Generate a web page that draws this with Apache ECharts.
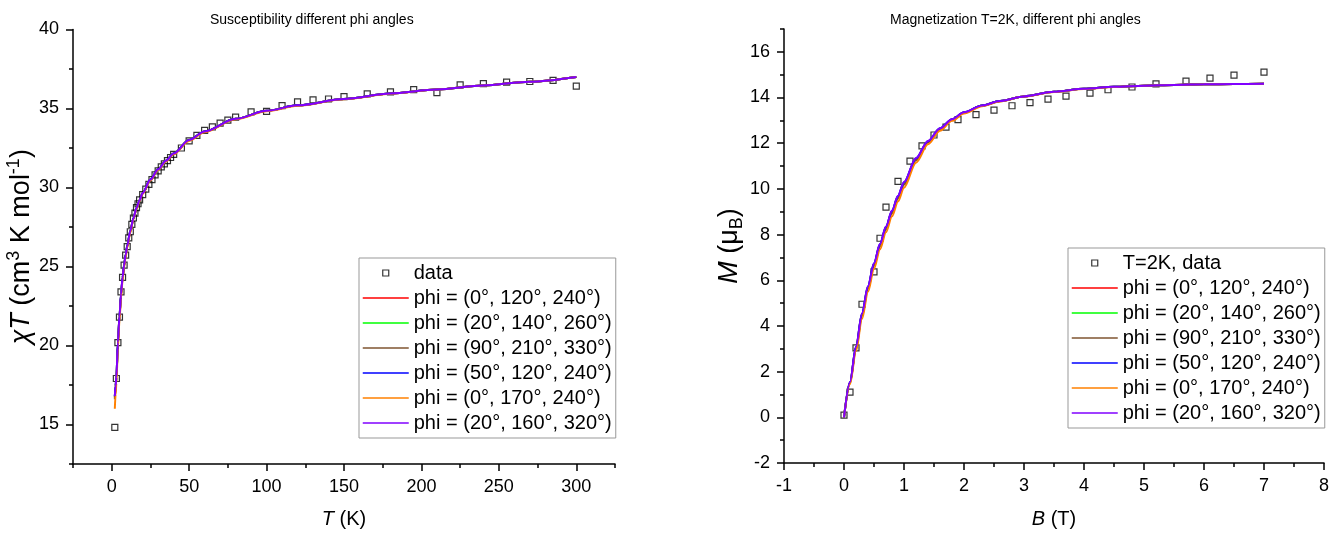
<!DOCTYPE html>
<html>
<head>
<meta charset="utf-8">
<script src="https://cdn.jsdelivr.net/npm/echarts@6/dist/echarts.min.js"></script>
<style>html,body{margin:0;padding:0;background:#fff}#c{width:1341px;height:534px}</style>
</head>
<body>
<div id="c"></div>
<script>
const FONT = '"Liberation Sans", Arial, sans-serif';

// ---------- Left panel: susceptibility ----------
const suscT = [2,3,4,5,6,7,8,9,10,11,12,13,14,15,16,17,18,20,22,24,26,28,30,32,34,36,38,40,45,50,55,60,65,70,75,80,90,100,110,120,130,140,150,165,180,195,210,225,240,255,270,285,300];
const suscChiT = [14.82,17.91,20.18,21.79,23.39,24.31,25.09,25.72,26.26,26.81,27.20,27.67,28.07,28.38,28.72,28.97,29.22,29.55,29.9,30.2,30.5,30.8,31.05,31.3,31.5,31.7,31.9,32.1,32.5,32.95,33.3,33.61,33.84,34.07,34.26,34.45,34.79,34.82,35.18,35.42,35.54,35.60,35.75,35.92,36.05,36.19,36.00,36.49,36.57,36.67,36.71,36.78,36.42];

const fitT = [2,2.5,3,4,5,6,7,8,9,10,12,14,16,18,20,25,30,35,40,50,60,80,100,120,150,180,210,240,270,300];
const fitChiT_a = [16.7,17.4,17.95,20.15,21.8,23.2,24.27,25.08,25.73,26.28,27.24,28.04,28.69,29.2,29.65,30.5,31.15,31.7,32.15,33.0,33.55,34.35,34.85,35.2,35.6,35.95,36.2,36.45,36.7,37.0];
const fitChiT_b = [16.75,17.42,17.97,20.17,21.82,23.22,24.28,25.09,25.74,26.29,27.24,28.04,28.69,29.2,29.65,30.5,31.15,31.7,32.15,33.0,33.55,34.35,34.85,35.2,35.6,35.95,36.2,36.45,36.7,37.0];
const fitChiT_c = [16.6,17.3,17.88,20.1,21.75,23.15,24.22,25.04,25.7,26.25,27.22,28.02,28.68,29.19,29.64,30.49,31.14,31.7,32.15,33.0,33.55,34.35,34.85,35.2,35.6,35.95,36.2,36.45,36.7,37.0];
const fitChiT_d = [16.78,17.44,17.99,20.19,21.84,23.24,24.29,25.1,25.75,26.3,27.25,28.05,28.7,29.2,29.65,30.5,31.15,31.7,32.15,33.0,33.55,34.35,34.85,35.2,35.6,35.95,36.2,36.45,36.7,37.0];
const fitChiT_e = [16.0,16.9,17.6,19.85,21.55,23.0,24.1,24.95,25.6,26.2,27.15,27.98,28.65,29.15,29.6,30.45,31.1,31.65,32.1,32.95,33.5,34.32,34.83,35.18,35.59,35.94,36.2,36.45,36.7,37.0];
const fitChiT_f = [16.8,17.45,18.0,20.2,21.85,23.25,24.3,25.1,25.75,26.3,27.25,28.05,28.7,29.2,29.65,30.5,31.15,31.7,32.15,33.0,33.55,34.35,34.85,35.2,35.6,35.95,36.2,36.45,36.7,37.0];

// ---------- Right panel: magnetization ----------
const fieldB = [0,0.1,0.2,0.3,0.5,0.6,0.7,0.9,1.1,1.3,1.5,1.7,1.9,2.2,2.5,2.8,3.1,3.4,3.7,4.1,4.4,4.8,5.2,5.7,6.1,6.5,7.0];
const magM = [0.10,1.10,3.04,4.95,6.37,7.84,9.20,10.33,11.22,11.88,12.36,12.70,13.03,13.25,13.45,13.64,13.78,13.93,14.06,14.19,14.34,14.46,14.60,14.72,14.85,14.98,15.11];

const fitB = [0,0.1,0.2,0.3,0.4,0.5,0.6,0.7,0.8,0.9,1.0,1.2,1.4,1.6,1.8,2.0,2.3,2.6,3.0,3.5,4.0,4.5,5.0,5.5,6.0,6.5,7.0];
const fitM_a = [0,1.53,3.06,4.5,5.7,6.7,7.55,8.3,9.0,9.65,10.25,11.3,12.07,12.63,13.04,13.34,13.65,13.85,14.05,14.25,14.38,14.47,14.52,14.55,14.58,14.59,14.6];
const fitM_b = [0,1.54,3.08,4.52,5.72,6.72,7.57,8.32,9.02,9.67,10.27,11.32,12.08,12.64,13.04,13.34,13.65,13.85,14.05,14.25,14.38,14.47,14.52,14.55,14.58,14.59,14.6];
const fitM_c = [0,1.5,3.0,4.42,5.62,6.62,7.47,8.22,8.93,9.58,10.18,11.25,12.03,12.6,13.02,13.33,13.64,13.84,14.05,14.25,14.38,14.47,14.52,14.55,14.58,14.59,14.6];
const fitM_d = [0,1.55,3.09,4.54,5.74,6.74,7.59,8.34,9.04,9.69,10.29,11.34,12.09,12.65,13.05,13.35,13.65,13.85,14.05,14.25,14.38,14.47,14.52,14.55,14.58,14.59,14.6];
const fitM_e = [0,1.45,2.9,4.3,5.5,6.5,7.35,8.1,8.8,9.45,10.05,11.15,11.95,12.55,12.98,13.3,13.62,13.83,14.04,14.24,14.37,14.46,14.52,14.55,14.58,14.59,14.6];
const fitM_f = [0,1.55,3.1,4.55,5.75,6.75,7.6,8.35,9.05,9.7,10.3,11.35,12.1,12.65,13.05,13.35,13.65,13.85,14.05,14.25,14.38,14.47,14.52,14.55,14.58,14.59,14.6];

const phiNames = ['phi = (0°, 120°, 240°)','phi = (20°, 140°, 260°)','phi = (90°, 210°, 330°)','phi = (50°, 120°, 240°)','phi = (0°, 170°, 240°)','phi = (20°, 160°, 320°)'];
const phiColors = ['#ff0000','#00ff00','#7f5530','#0000ff','#ff8000','#8000ff'];
const leftFits = [fitChiT_a, fitChiT_b, fitChiT_c, fitChiT_d, fitChiT_e, fitChiT_f];
const rightFits = [fitM_a, fitM_b, fitM_c, fitM_d, fitM_e, fitM_f];

// tick labels
const leftXTicks = [0,50,100,150,200,250,300];
const leftXMinor = [-25,25,75,125,175,225,275,325];
const leftYTicks = [15,20,25,30,35,40];
const leftYMinor = [12.5,17.5,22.5,27.5,32.5,37.5];
const rightXTicks = [-1,0,1,2,3,4,5,6,7,8];
const rightXMinor = [-0.5,0.5,1.5,2.5,3.5,4.5,5.5,6.5,7.5];
const rightYTicks = [-2,0,2,4,6,8,10,12,14,16];
const rightYMinor = [-1,1,3,5,7,9,11,13,15,17];

const zip = (xs, ys) => xs.map((x, i) => [x, ys[i]]);

const richX = {
  n: {fontSize: 20, fontFamily: FONT, color: '#000', lineHeight: 26},
  i: {fontSize: 20, fontFamily: FONT, color: '#000', fontStyle: 'italic', lineHeight: 26}
};
const richY = {
  n: {fontSize: 27, fontFamily: FONT, color: '#000', lineHeight: 34},
  i: {fontSize: 27, fontFamily: FONT, color: '#000', fontStyle: 'italic', lineHeight: 34},
  s: {fontSize: 18, fontFamily: FONT, color: '#000', verticalAlign: 'top', lineHeight: 18},
  b: {fontSize: 18, fontFamily: FONT, color: '#000', verticalAlign: 'bottom', lineHeight: 18}
};

function mainAxis(gridIndex, pos, min, max, ticks, name, nameGap, rich) {
  return {
    type: 'value', gridIndex, position: pos, min, max,
    axisLine: {show: true, onZero: false, lineStyle: {color: '#000', width: 1.5}},
    axisTick: {show: true, inside: false, length: 7, customValues: ticks, lineStyle: {color: '#000', width: 1.5}},
    axisLabel: {show: true, customValues: ticks, margin: 14, fontSize: 18, fontFamily: FONT, color: '#000'},
    splitLine: {show: false},
    name, nameLocation: 'middle', nameGap,
    nameTextStyle: {fontFamily: FONT, color: '#000', rich}
  };
}
function minorAxis(gridIndex, pos, min, max, ticks) {
  return {
    type: 'value', gridIndex, position: pos, min, max,
    axisLine: {show: false, onZero: false},
    axisTick: {show: true, inside: false, length: 4, customValues: ticks, lineStyle: {color: '#000', width: 1.5}},
    axisLabel: {show: false},
    splitLine: {show: false}
  };
}

const series = [];
series.push({
  name: 'data', type: 'scatter', xAxisIndex: 0, yAxisIndex: 0,
  data: zip(suscT, suscChiT), symbol: 'rect', symbolSize: 6,
  itemStyle: {color: 'rgba(255,255,255,0)', borderColor: '#000', borderWidth: 1.2}
});
phiNames.forEach((nm, k) => series.push({
  name: nm, type: 'line', xAxisIndex: 0, yAxisIndex: 0,
  data: zip(fitT, leftFits[k]), symbol: 'none', smooth: 0.3, smoothMonotone: 'x',
  lineStyle: {color: phiColors[k], width: 2}, itemStyle: {color: phiColors[k]}
}));
series.push({
  name: 'T=2K, data', type: 'scatter', xAxisIndex: 2, yAxisIndex: 2,
  data: zip(fieldB, magM), symbol: 'rect', symbolSize: 6,
  itemStyle: {color: 'rgba(255,255,255,0)', borderColor: '#000', borderWidth: 1.2}
});
phiNames.forEach((nm, k) => series.push({
  name: nm, type: 'line', xAxisIndex: 2, yAxisIndex: 2,
  data: zip(fitB, rightFits[k]), symbol: 'none', smooth: 0.3, smoothMonotone: 'x',
  lineStyle: {color: phiColors[k], width: 2}, itemStyle: {color: phiColors[k]}
}));

const legendCommon = {
  orient: 'vertical', itemWidth: 46, itemHeight: 6, itemGap: 5, symbolKeepAspect: true,
  padding: [5, 4, 5, 3], borderColor: '#999', borderWidth: 1, backgroundColor: '#fff',
  textStyle: {fontSize: 20, fontFamily: FONT, color: '#000', lineHeight: 20},
  lineStyle: {width: 1.5}, selectedMode: false
};
const lineLegendItems = phiNames.map(nm => ({name: nm, itemStyle: {opacity: 0}}));
const SQUARE = 'path://M0,0L10,0L10,10L0,10Z';
const dotLegendItem = nm => ({name: nm, icon: SQUARE, symbolKeepAspect: true,
  itemStyle: {color: 'rgba(255,255,255,0)', borderColor: '#000', borderWidth: 1.2}});

const option = {
  animation: false,
  backgroundColor: '#fff',
  title: [
    {text: 'Susceptibility different phi angles', left: 210, top: 13, padding: 0,
     textStyle: {fontSize: 14, fontWeight: 'normal', fontFamily: FONT, color: '#000'}},
    {text: 'Magnetization T=2K, different phi angles', left: 890, top: 13, padding: 0,
     textStyle: {fontSize: 14, fontWeight: 'normal', fontFamily: FONT, color: '#000'}}
  ],
  grid: [
    {left: 73, right: 726, top: 29.5, bottom: 68},
    {left: 784, right: 17, top: 29, bottom: 69}
  ],
  xAxis: [
    mainAxis(0, 'bottom', -25, 325, leftXTicks, '{i|T}{n| (K)}', 42, richX),
    minorAxis(0, 'bottom', -25, 325, leftXMinor),
    mainAxis(1, 'bottom', -1, 8, rightXTicks, '{i|B}{n| (T)}', 43, richX),
    minorAxis(1, 'bottom', -1, 8, rightXMinor)
  ],
  yAxis: [
    mainAxis(0, 'left', 12.5, 40, leftYTicks, '{i|χT}{n| (cm}{s|3}{n| K mol}{s|-1}{n|)}', 34, richY),
    minorAxis(0, 'left', 12.5, 40, leftYMinor),
    mainAxis(1, 'left', -2, 17, rightYTicks, '{i|M}{n| (μ}{b|B}{n|)}', 35, richY),
    minorAxis(1, 'left', -2, 17, rightYMinor)
  ],
  legend: [
    Object.assign({}, legendCommon, {data: [dotLegendItem('data')].concat(lineLegendItems), left: 359, top: 258}),
    Object.assign({}, legendCommon, {data: [dotLegendItem('T=2K, data')].concat(lineLegendItems), left: 1068, top: 248})
  ],
  series
};

const chart = echarts.init(document.getElementById('c'), null, {renderer: 'canvas'});
chart.setOption(option);
</script>
</body>
</html>
